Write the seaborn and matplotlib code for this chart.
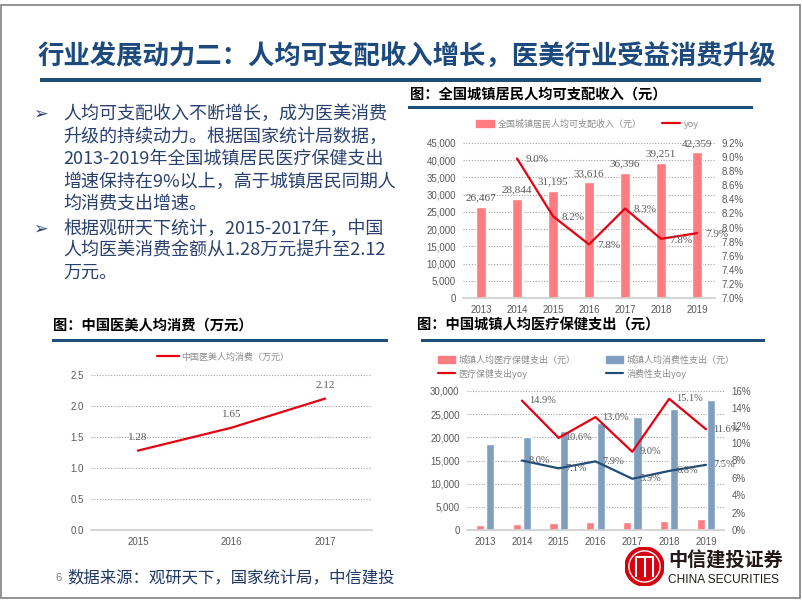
import numpy as np
import pandas as pd
import matplotlib.pyplot as plt
import seaborn as sns
from matplotlib.patches import Rectangle, Circle
from matplotlib.lines import Line2D
from matplotlib.ticker import FuncFormatter, MultipleLocator

# data
years = ['2013', '2014', '2015', '2016', '2017', '2018', '2019']
income = [26467, 28844, 31195, 33616, 36396, 39251, 42359]
income_yoy = [np.nan, 8.98, 8.16, 7.76, 8.27, 7.84, 7.92]

beauty_years = ['2015', '2016', '2017']
beauty_spend = [1.28, 1.65, 2.12]

medical_spend = [1136, 1306, 1443, 1631, 1777, 2046, 2283]
consume_spend = [18488, 19968, 21392, 23079, 24445, 26112, 28063]
medical_yoy = [np.nan, 14.9, 10.6, 13.0, 9.0, 15.1, 11.6]
consume_yoy = [np.nan, 8.0, 7.1, 7.9, 5.9, 6.8, 7.5]

title = '行业发展动力二：人均可支配收入增长，医美行业受益消费升级'
bullet1 = ['人均可支配收入不断增长，成为医美消费',
           '升级的持续动力。根据国家统计局数据，',
           '2013-2019年全国城镇居民医疗保健支出',
           '增速保持在9%以上，高于城镇居民同期人',
           '均消费支出增速。']
bullet2 = ['根据观研天下统计，2015-2017年，中国',
           '人均医美消费金额从1.28万元提升至2.12',
           '万元。']
source = '数据来源：观研天下，国家统计局，中信建投'

PINK = '#ff7c80'
BLUE = '#809fc0'
RED = '#e60012'
NAVY = '#1f4e79'
TXT = '#2a4170'
GRAY = '#595959'
LEG = '#8c8c8c'
CJK = ['Noto Sans CJK SC', 'DejaVu Sans']

sns.set_theme(style='white')
plt.rcParams['font.family'] = ['Liberation Sans', 'Noto Sans CJK SC', 'DejaVu Sans']
plt.rcParams['axes.unicode_minus'] = False

W, H = 802, 602
fig = plt.figure(figsize=(W / 100, H / 100), dpi=100)


def box(x0, y0, x1, y1):
    return [x0 / W, 1 - y1 / H, (x1 - x0) / W, (y1 - y0) / H]


def ftext(x, y, s, **kw):
    fig.text(x / W, 1 - y / H, s, **kw)


def frect(x0, y0, x1, y1, color):
    fig.add_artist(Rectangle((x0 / W, 1 - y1 / H), (x1 - x0) / W, (y1 - y0) / H,
                             transform=fig.transFigure, color=color, lw=0))


def style(ax):
    for s in ['top', 'right', 'left']:
        ax.spines[s].set_visible(False)
    ax.spines['bottom'].set_color('#d0d0d0')
    ax.tick_params(length=0, labelsize=7, labelcolor=GRAY, pad=5)
    ax.yaxis.grid(True, color='#a0a0a0', linestyle=(0, (1, 1.5)), linewidth=0.8)
    ax.xaxis.grid(False)
    ax.set_xlabel('')
    ax.set_ylabel('')


def style_twin(ax):
    for s in ax.spines.values():
        s.set_visible(False)
    ax.tick_params(length=0, labelsize=7, labelcolor=GRAY, pad=5)
    ax.grid(False)
    ax.set_xlabel('')
    ax.set_ylabel('')


# slide frame, title
fig.add_artist(Rectangle((1 / W, 1 - 598 / H), 799 / W, 593 / H, transform=fig.transFigure,
                         fill=False, ec='#808080', lw=1.2))
ftext(38, 57, title, family=CJK, fontsize=19, weight='bold', color='#1c4a7e', va='center')
frect(40, 77.5, 761, 82, NAVY)

# bullet text
ys = [114, 136.5, 159, 181.5, 204]
for k, line in enumerate(bullet1):
    ftext(63, ys[k], line, family=CJK, fontsize=13, color=TXT, va='center')
ftext(33, ys[0], '➢', family=['DejaVu Sans'], fontsize=12.5, color=TXT, va='center')
ys2 = [229, 251, 273]
for k, line in enumerate(bullet2):
    ftext(63, ys2[k], line, family=CJK, fontsize=13, color=TXT, va='center')
ftext(33, ys2[0], '➢', family=['DejaVu Sans'], fontsize=12.5, color=TXT, va='center')

# chart titles
ftext(410, 95, '图：全国城镇居民人均可支配收入（元）', family=CJK, fontsize=10.3, weight='bold',
      color='black', va='center')
frect(408, 105.5, 753, 108.5, NAVY)
ftext(53, 326, '图：中国医美人均消费（万元）', family=CJK, fontsize=10.3, weight='bold',
      color='black', va='center')
frect(52, 338.5, 388, 341.5, NAVY)
ftext(417, 326, '图：中国城镇人均医疗保健支出（元）', family=CJK, fontsize=10.3, weight='bold',
      color='black', va='center')
frect(421, 338.5, 765, 341.5, NAVY)

# ---- chart 1: disposable income ----
inc = pd.DataFrame({'year': years, 'income': income, 'yoy': income_yoy})
inc['pos'] = np.arange(len(inc))
ax1 = fig.add_axes(box(463, 143, 715, 298))
sns.barplot(data=inc, x='year', y='income', color=PINK, saturation=1, width=0.3, ax=ax1)
style(ax1)
ax1.set_ylim(0, 45000)
ax1.yaxis.set_major_locator(MultipleLocator(5000))
ax1.yaxis.set_major_formatter(FuncFormatter(lambda v, p: f'{v:,.0f}'))
for i, v in enumerate(income):
    ax1.annotate(f'{v:,}', (i, v), xytext=(0, 3), textcoords='offset points', ha='center',
                 va='bottom', fontsize=8, color=GRAY, family='Liberation Serif')
ax1b = ax1.twinx()
sns.lineplot(data=inc, x='pos', y='yoy', color=RED, lw=1.6, ax=ax1b)
style_twin(ax1b)
ax1b.set_ylim(7.0, 9.2)
ax1b.yaxis.set_major_locator(MultipleLocator(0.2))
ax1b.yaxis.set_major_formatter(FuncFormatter(lambda v, p: f'{v:.1f}%'))
for i, v in enumerate(income_yoy):
    if not np.isnan(v):
        ax1b.annotate(f'{v:.1f}%', (i, v), xytext=(6, -1), textcoords='offset points',
                      ha='left', va='center', fontsize=8, color=GRAY, family='Liberation Serif')
ax1.set_xlim(-0.5, len(years) - 0.5)
h1 = [Rectangle((0, 0), 1, 1, color=PINK), Line2D([], [], color=RED, lw=1.6)]
ax1.legend(h1, ['全国城镇居民人均可支配收入（元）', 'yoy'], loc='center', bbox_to_anchor=(0.494, 1.123),
           ncol=2, frameon=False, prop={'family': CJK, 'size': 6.5}, handlelength=2.0,
           handletextpad=0.4, columnspacing=2.2, labelcolor=LEG)

# ---- chart 2: medical aesthetics spend per capita ----
bea = pd.DataFrame({'year': beauty_years, 'spend': beauty_spend})
bea['pos'] = np.arange(len(bea))
ax2 = fig.add_axes(box(91, 375, 372, 530))
sns.lineplot(data=bea, x='pos', y='spend', color=RED, lw=1.6, ax=ax2)
style(ax2)
ax2.set_xlim(-0.5, len(beauty_years) - 0.5)
ax2.set_xticks(bea['pos'], beauty_years)
ax2.set_ylim(0, 2.5)
ax2.yaxis.set_major_locator(MultipleLocator(0.5))
ax2.yaxis.set_major_formatter(FuncFormatter(lambda v, p: f'{v:.1f}'))
for i, v in enumerate(beauty_spend):
    ax2.annotate(f'{v:.2f}', (i, v), xytext=(0, 6), textcoords='offset points', ha='center',
                 va='bottom', fontsize=8, color=GRAY, family='Liberation Serif')
ax2.legend([Line2D([], [], color=RED, lw=1.6)], ['中国医美人均消费（万元）'], loc='center',
           bbox_to_anchor=(0.47, 1.116), frameon=False, prop={'family': CJK, 'size': 6.5},
           handlelength=2.4, handletextpad=0.3, labelcolor=LEG)

# ---- chart 3: urban healthcare spend ----
k_med = '城镇人均医疗保健支出（元）'
k_con = '城镇人均消费性支出（元）'
sp = pd.DataFrame({'year': years * 2, 'value': medical_spend + consume_spend,
                   'kind': [k_med] * len(years) + [k_con] * len(years)})
yoy = pd.DataFrame({'pos': np.arange(len(years)), 'med': medical_yoy, 'con': consume_yoy})
ax3 = fig.add_axes(box(466.6, 391, 724.4, 530))
sns.barplot(data=sp, x='year', y='value', hue='kind', palette=[PINK, BLUE], saturation=1,
            width=0.56, gap=0.2, legend=False, ax=ax3)
style(ax3)
ax3.set_ylim(0, 30000)
ax3.yaxis.set_major_locator(MultipleLocator(5000))
ax3.yaxis.set_major_formatter(FuncFormatter(lambda v, p: f'{v:,.0f}'))
ax3b = ax3.twinx()
sns.lineplot(data=yoy, x='pos', y='med', color=RED, lw=1.6, ax=ax3b)
sns.lineplot(data=yoy, x='pos', y='con', color=NAVY, lw=1.6, ax=ax3b)
style_twin(ax3b)
ax3b.set_ylim(0, 16)
ax3b.yaxis.set_major_locator(MultipleLocator(2))
ax3b.yaxis.set_major_formatter(FuncFormatter(lambda v, p: f'{v:.0f}%'))
for col in ['med', 'con']:
    for i, v in enumerate(yoy[col]):
        if not np.isnan(v):
            ax3b.annotate(f'{v:.1f}%', (i, v), xytext=(5, 0), textcoords='offset points',
                          ha='left', va='center', fontsize=7.5, color=GRAY,
                          family='Liberation Serif')
ax3.set_xlim(-0.5, len(years) - 0.5)
h3 = [Rectangle((0, 0), 1, 1, color=PINK), Line2D([], [], color=RED, lw=1.6),
      Rectangle((0, 0), 1, 1, color=BLUE), Line2D([], [], color=NAVY, lw=1.6)]
ax3.legend(h3, [k_med, '医疗保健支出yoy', k_con, '消费性支出yoy'], loc='center',
           bbox_to_anchor=(0.465, 1.173), ncol=2, frameon=False,
           prop={'family': CJK, 'size': 6.5}, handlelength=1.9, handletextpad=0.35,
           columnspacing=3.4, labelspacing=0.45, labelcolor=LEG)

# footer
ftext(55, 578, '6', fontsize=8, color='#7f7f7f', va='center')
ftext(67, 578, source, family=CJK, fontsize=11.8, color='#1f3864', va='center', style='italic')

# logo
lax = fig.add_axes(box(625, 547, 664, 586))
lax.set_xlim(-1, 1)
lax.set_ylim(-1, 1)
lax.set_aspect('equal')
lax.axis('off')
lax.add_patch(Circle((0, 0), 1, color='#d7000f'))
lax.add_patch(Circle((0, 0), 0.8, fill=False, ec='white', lw=1.0))
for xv in (-0.42, 0, 0.42):
    lax.plot([xv, xv], [-0.55, 0.5], color='white', lw=1.5, solid_capstyle='butt')
lax.plot([-0.42, 0.42], [0.5, 0.5], color='white', lw=1.5)
ftext(668, 561, '中信建投证券', family=CJK, fontsize=13.8, weight='bold', color='#231815',
      va='center')
ftext(668, 580, 'CHINA SECURITIES', family=['Liberation Sans'], fontsize=8.6, color='#231815',
      va='center')

fig.savefig('out.png', dpi=100, facecolor='white')
